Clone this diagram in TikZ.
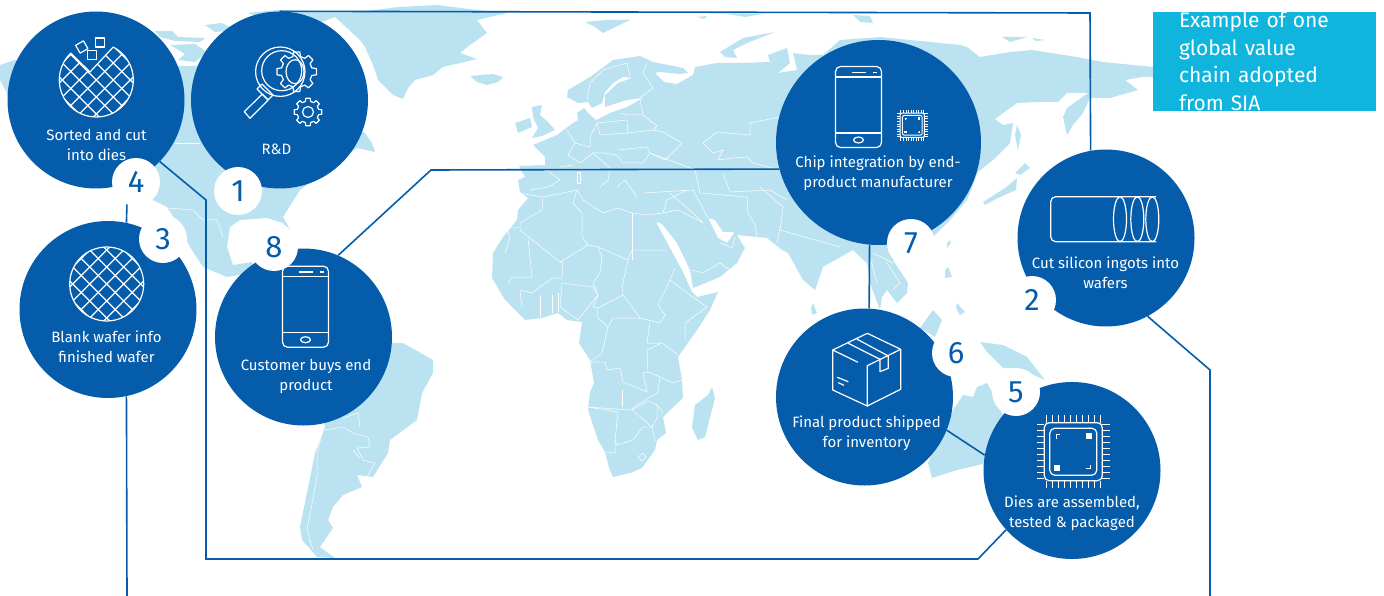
\documentclass[tikz,border=0pt]{standalone}
\usepackage{fontspec}
\setmainfont{Fira Sans}
\usetikzlibrary{positioning,calc}

\definecolor{stepblue}{HTML}{045CAB}
\definecolor{landblue}{HTML}{BAE2F0}
\definecolor{noteblue}{HTML}{0FB5DC}

\tikzset{
  land/.style={fill=landblue},
  border/.style={draw=white,line width=.5pt,line join=round},
  chainline/.style={draw=stepblue,line width=1.6pt},
  iconline/.style={draw=white,line width=1.2pt,line join=round},
  stepdisc/.style={circle,fill=stepblue,inner sep=0pt,minimum size=177pt},
  steptext/.style={text=white,align=center,inner sep=0pt,font=\fontsize{15}{20}\selectfont},
  stepnum/.style={circle,fill=white,text=stepblue,inner sep=0pt,minimum size=48pt,font=\fontsize{31}{31}\selectfont},
  notebox/.style={fill=noteblue,text=white,inner sep=0pt,minimum width=223pt,minimum height=97pt,text width=171pt,align=left,font=\fontsize{21}{27.5}\selectfont}
}

\newcommand{\wafernet}{
  \foreach \k in {-5,...,5} {
    \draw[iconline] ({-60+\k*17},-60) -- ({60+\k*17},60);
    \draw[iconline] ({60+\k*17},-60) -- ({-60+\k*17},60);
  }
}
\newcommand{\gearicon}[3]{
  \draw[iconline,shift={(#1,#2)}] ({-14}:{.78*#3})
    \foreach \a in {0,45,...,315} { -- ({\a-14}:{.78*#3}) -- ({\a-9}:#3) -- ({\a+9}:#3) -- ({\a+14}:{.78*#3}) } -- cycle;
}
\newcommand{\phoneicon}[2]{
  \begin{scope}[shift={(#1,#2)}]
    \draw[iconline,rounded corners=5pt] (-23,-40.5) rectangle (23,40.5);
    \draw[iconline] (-23,-30) -- (23,-30);
    \draw[iconline] (-23,26) -- (23,26);
    \draw[draw=white,line width=1.8pt] (-7,-34.5) -- (7,-34.5);
    \draw[draw=white,line width=1.8pt] (14,-34.5) -- (18,-34.5);
    \draw[iconline] (0,33) ellipse [x radius=5pt,y radius=3pt];
  \end{scope}
}
\newcommand{\chipicon}[5]{
  \begin{scope}[shift={(#1,#2)},scale=#3]
    \draw[draw=white,line width=#4pt,rounded corners=#5pt] (-29,-29) rectangle (29,29);
    \draw[draw=white,line width=#4pt,rounded corners=#5pt] (-23.5,-23.5) rectangle (23.5,23.5);
    \foreach \k in {-27,-21,...,27} {
      \draw[draw=white,line width=#4pt] (\k,-29) -- (\k,-36.5);
      \draw[draw=white,line width=#4pt] (\k,29) -- (\k,36.5);
      \draw[draw=white,line width=#4pt] (-29,\k) -- (-36.5,\k);
      \draw[draw=white,line width=#4pt] (29,\k) -- (36.5,\k);
    }
    \draw[draw=white,line width=#4pt] (-17,-13) -- (-17,-17) -- (-13,-17);
    \draw[draw=white,line width=#4pt] (17,13) -- (17,17) -- (13,17);
    \fill[white] (13,-19) rectangle (19,-13);
    \fill[white] (-19,13) rectangle (-13,19);
  \end{scope}
}

\begin{document}
\begin{tikzpicture}[x=1pt,y=-1pt]
  \useasboundingbox (0,0) rectangle (1384,596);

  % Americas
  \fill[land] (0,65) -- (15,60) -- (26,62) -- (60,50) -- (90,62) -- (178,66) -- (195,66) -- (260,50) -- (335,60) -- (352,128) -- (365,133) -- (372,143) -- (375,152) -- (357,148) -- (300,190) -- (283,217) -- (298,243) -- (283,223) -- (267,218) -- (240,220) -- (230,227) -- (227,247) -- (233,265) -- (252,262) -- (262,300) -- (240,275) -- (227,277) -- (203,267) -- (190,247) -- (180,227) -- (167,207) -- (153,200) -- (100,170) -- (30,100) -- (12,90) -- (8,95) -- (0,80) -- cycle;
  \fill[land] (155,31) -- (172,31) -- (178,37) -- (205,38) -- (200,42) -- (175,41) -- (160,37) -- cycle;
  \fill[land] (205,25) -- (222,23) -- (235,30) -- (215,32) -- cycle;
  \fill[land] (170,45) -- (195,44) -- (207,52) -- (195,62) -- (178,60) -- (185,54) -- cycle;
  \fill[land] (300,330) -- (392,343) -- (403,343) -- (433,360) -- (433,373) -- (422,393) -- (417,420) -- (390,440) -- (388,453) -- (373,477) -- (357,475) -- (362,487) -- (343,495) -- (333,507) -- (328,520) -- (333,528) -- (320,547) -- (335,558) -- (317,557) -- (302,540) -- (300,527) -- (307,493) -- (315,453) -- (325,427) -- cycle;

  % Greenland, Iceland, the British Isles and the north
  \fill[land] (247,13) -- (280,10) -- (360,12) -- (398,7) -- (437,5) -- (477,10) -- (507,13) -- (477,20) -- (487,33) -- (470,45) -- (460,53) -- (477,59) -- (443,67) -- (433,75) -- (415,80) -- (408,88) -- (403,99) -- (393,95) -- (385,87) -- (378,80) -- (373,65) -- (365,47) -- (360,40) -- (335,17) -- (300,30) -- cycle;
  \fill[land] (470,76) -- (493,74) -- (503,77) -- (498,82) -- (487,85) -- (477,82) -- cycle;
  \fill[land] (532,107) -- (542,105) -- (540,115) -- (548,122) -- (555,130) -- (542,136) -- (532,138) -- (538,128) -- (533,117) -- cycle;
  \fill[land] (515,123) -- (530,118) -- (532,127) -- (518,133) -- cycle;
  \fill[land] (585,22) -- (607,20) -- (630,20) -- (603,33) -- (595,27) -- cycle;
  \fill[land] (720,52) -- (743,38) -- (775,32) -- (747,43) -- (733,50) -- (737,58) -- (725,57) -- cycle;
  \fill[land] (697,17) -- (707,16) -- (704,19) -- cycle;
  \fill[land] (728,14) -- (763,14) -- (745,17) -- cycle;
  \fill[land] (853,15) -- (870,16) -- (873,23) -- (860,22) -- cycle;
  \fill[land] (1002,37) -- (1027,37) -- (1010,42) -- cycle;
  \fill[land] (1032,38) -- (1045,40) -- (1036,41) -- cycle;

  % Africa and Eurasia
  \fill[land] (519,166) -- (545,165) -- (545,157) -- (533,145) -- (557,135) -- (573,123) -- (578,120) -- (577,113) -- (584,108) -- (588,113) -- (596,120) -- (610,113) -- (627,107) -- (643,98) -- (627,100) -- (617,103) -- (605,107) -- (605,95) -- (618,83) -- (632,78) -- (623,77) -- (613,83) -- (605,92) -- (602,103) -- (592,108) -- (588,102) -- (578,103) -- (567,97) -- (568,90) -- (590,77) -- (613,60) -- (640,56) -- (653,62) -- (683,68) -- (688,73) -- (680,74) -- (660,72) -- (655,73) -- (664,82) -- (677,84) -- (693,75) -- (695,67) -- (717,63) -- (743,63) -- (770,62) -- (768,55) -- (787,48) -- (790,63) -- (778,73) -- (797,70) -- (793,53) -- (810,55) -- (823,55) -- (840,40) -- (880,37) -- (960,45) -- (967,47) -- (980,57) -- (1010,52) -- (1032,50) -- (1077,57) -- (1103,62) -- (1153,67) -- (1153,77) -- (1142,77) -- (1125,80) -- (1138,90) -- (1110,98) -- (1090,98) -- (1083,113) -- (1073,125) -- (1067,135) -- (1063,117) -- (1067,108) -- (1088,93) -- (1067,93) -- (1058,102) -- (1040,102) -- (1017,103) -- (995,119) -- (1003,125) -- (1013,123) -- (1010,143) -- (993,160) -- (978,172) -- (967,200) -- (950,220) -- (933,237) -- (920,245) -- (893,260) -- (908,283) -- (907,293) -- (897,303) -- (887,290) -- (882,297) -- (880,310) -- (870,283) -- (867,263) -- (860,257) -- (853,250) -- (823,267) -- (815,290) -- (803,280) -- (788,253) -- (782,250) -- (767,238) -- (737,235) -- (733,232) -- (723,232) -- (715,220) -- (708,218) -- (718,238) -- (727,243) -- (735,232) -- (745,248) -- (737,263) -- (720,277) -- (693,288) -- (690,270) -- (677,243) -- (662,224) -- (656,222) -- (670,248) -- (683,272) -- (692,292) -- (697,297) -- (718,292) -- (710,310) -- (697,330) -- (678,357) -- (682,380) -- (683,398) -- (667,413) -- (663,417) -- (666,433) -- (657,440) -- (655,450) -- (642,468) -- (630,473) -- (613,477) -- (609,468) -- (605,452) -- (598,440) -- (588,410) -- (590,392) -- (594,383) -- (590,360) -- (579,343) -- (582,322) -- (567,320) -- (558,313) -- (542,318) -- (525,320) -- (505,300) -- (492,278) -- (493,253) -- (503,237) -- (517,220) -- (518,210) -- (528,198) -- (520,192) -- (518,180) -- (525,177) -- cycle;

  % islands and Australia
  \fill[land] (712,387) -- (715,398) -- (705,437) -- (698,440) -- (692,428) -- (695,405) -- (708,395) -- cycle;
  \fill[land] (987,383) -- (977,387) -- (973,397) -- (963,395) -- (955,407) -- (945,425) -- (928,463) -- (932,478) -- (957,470) -- (983,464) -- (1003,415) -- (992,392) -- cycle;
  \fill[land] (980,342) -- (1003,345) -- (1013,350) -- (1027,357) -- (1045,380) -- (1027,372) -- (1013,368) -- (1003,368) -- (993,358) -- (987,352) -- cycle;
  \fill[land] (933,310) -- (942,320) -- (935,337) -- (920,328) -- cycle;
  \fill[land] (948,267) -- (952,277) -- (945,278) -- (945,270) -- cycle;
  \fill[land] (957,303) -- (965,312) -- (960,315) -- (956,308) -- cycle;
  \fill[land] (950,240) -- (951,243) -- (947,248) -- (947,243) -- cycle;
  \fill[land] (813,303) -- (817,313) -- (812,315) -- (811,308) -- cycle;
  \fill[land] (1017,125) -- (1021,135) -- (1018,150) -- (1015,135) -- cycle;
  \fill[land] (1015,173) -- (1025,163) -- (1030,168) -- (1020,175) -- cycle;
  \fill[land] (1017,178) -- (1016,190) -- (1000,197) -- (985,205) -- (983,202) -- (1005,188) -- cycle;

  % borders, Africa
  \draw[border] (518,193) -- (543,197) -- (577,190) -- (583,200) -- (603,213) -- (617,208) -- (632,213) -- (647,215) -- (663,213) -- (667,200) -- (687,190);
  \draw[border] (577,190) -- (573,203) -- (582,213) -- (582,237) -- (588,245);
  \draw[border] (543,197) -- (542,210) -- (520,223) -- (520,230) -- (560,262) -- (588,245) -- (598,247) -- (628,260) -- (632,250) -- (667,250);
  \draw[border] (520,228) -- (507,228) -- (510,237) -- (505,253);
  \draw[border] (528,238) -- (532,277) -- (512,277) -- (508,283);
  \draw[border] (632,213) -- (632,260);
  \draw[border] (560,262) -- (563,262) -- (562,278) -- (552,278) -- (532,293) -- (520,290) -- (522,308);
  \draw[border] (598,247) -- (602,257) -- (600,273) -- (593,283) -- (598,295) -- (593,307) -- (598,308) -- (623,295) -- (622,287) -- (628,260);
  \draw[border] (623,295) -- (640,318) -- (660,323) -- (665,315) -- (658,305) -- (670,280) -- (675,268);
  \draw[border] (650,323) -- (647,343) -- (662,343) -- (678,355);
  \draw[border] (685,340) -- (685,323) -- (707,307) -- (690,295) -- (670,280);
  \draw[border] (562,283) -- (593,287) -- (598,295) -- (578,320) -- (560,307) -- cycle;
  \draw[border] (540,295) -- (540,317);
  \draw[border] (552,295) -- (552,313);
  \draw[border] (558,293) -- (558,312);
  \draw[border] (598,308) -- (597,317) -- (608,327) -- (613,318) -- (640,318);
  \draw[border] (608,327) -- (602,353) -- (590,362) -- (605,362) -- (607,370) -- (620,368) -- (623,382) -- (647,392) -- (643,373) -- (648,372) -- (660,377) -- (658,393) -- (648,398) -- (630,410) -- (588,407);
  \draw[border] (647,350) -- (648,372);
  \draw[border] (662,343) -- (647,350);
  \draw[border] (660,377) -- (673,383) -- (682,380);
  \draw[border] (622,390) -- (622,407);
  \draw[border] (588,407) -- (618,412) -- (615,440) -- (617,445) -- (633,440) -- (643,427) -- (652,427) -- (632,410);
  \draw[border] (605,452) -- (615,453) -- (615,440);
  \draw[border] (632,410) -- (648,401) -- (657,405) -- (657,418) -- (652,427) -- (655,442);
  \draw[border] (663,413) -- (657,405);
  \draw[border] (638,457) -- (643,453) -- (646,457) -- (642,461) -- cycle;

  % borders, Europe and Asia
  \draw[border] (587,100) -- (590,83) -- (603,70) -- (627,63) -- (630,77);
  \draw[border] (647,63) -- (643,73) -- (653,88) -- (640,98);
  \draw[border] (640,100) -- (643,115) -- (627,115) -- (620,113);
  \draw[border] (597,123) -- (627,120) -- (628,133) -- (600,135) -- cycle;
  \draw[border] (628,133) -- (653,130) -- (663,132) -- (682,143) -- (665,160) -- (650,153) -- (647,147) -- (618,150);
  \draw[border] (643,115) -- (657,126) -- (653,130);
  \draw[border] (567,130) -- (575,143) -- (568,155) -- (580,163);
  \draw[border] (575,143) -- (590,147) -- (590,137) -- (597,123);
  \draw[border] (580,163) -- (593,153) -- (603,153) -- (617,155) -- (623,163) -- (643,163) -- (650,153);
  \draw[border] (593,153) -- (610,168) -- (608,180) -- (600,187);
  \draw[border] (560,167) -- (573,165);
  \draw[border] (650,153) -- (677,163) -- (695,170) -- (700,193) -- (747,197) -- (748,213) -- (755,225) -- (757,237);
  \draw[border] (577,172) rectangle (580,183);
  \draw[border] (547,170) -- (560,180) -- (548,187) -- (530,190);
  \draw[border] (617,187) -- (625,180) -- (637,197);
  \draw[border] (643,193) -- (693,190) -- (700,203) -- (708,218);
  \draw[border] (670,193) -- (693,213) -- (703,223);
  \draw[border] (663,213) -- (678,210) -- (703,223);
  \draw[border] (723,173) -- (730,192) -- (770,190) -- (787,200);
  \draw[border] (703,143) -- (717,132) -- (750,135) -- (750,123) -- (780,117);
  \draw[border] (703,143) -- (713,153) -- (723,150) -- (718,160) -- (733,158) -- (747,157) -- (753,163) -- (780,170);
  \draw[border] (692,270) -- (703,273) -- (720,263) -- (730,270);
  \draw[border] (720,243) -- (732,248) -- (735,237);
  \draw[border] (780,227) -- (777,243);
  \draw[border] (760,187) -- (783,207) -- (780,230) -- (840,247);
  \draw[border] (870,257) -- (877,283);
  \draw[border] (887,263) -- (900,283) -- (893,290);
  \draw[border] (873,253) -- (893,263);

  % borders, the Americas
  \draw[border] (323,430) -- (317,453) -- (317,477) -- (307,530) -- (313,550);
  \draw[border] (325,430) -- (343,427) -- (353,433) -- (368,437) -- (370,447) -- (357,448) -- (363,460) -- (375,463) -- (367,477);
  \draw[border] (360,458) -- (353,450);
  \draw[border] (343,418) -- (358,413) -- (360,427);
  \draw[border] (175,143) -- (200,143);
  \draw[border] (167,208) -- (193,210) -- (203,220) -- (217,220) -- (223,237);

  \node[notebox] (note) at (1264.5,61.5) {Example of one global value chain adopted from SIA};

  \node[stepdisc] (rd) at (279.5,100) {};
  \node[stepdisc,minimum size=205pt] (chip) at (878.5,142.5) {};
  \node[stepdisc] (ingot) at (1106,238) {};
  \node[stepdisc] (blank) at (108,309.5) {};
  \node[stepdisc] (sorted) at (96,100) {};
  \node[stepdisc] (dies) at (1072,470.5) {};
  \node[stepdisc] (shipped) at (864.5,397) {};
  \node[stepdisc] (buyer) at (303.5,337) {};

  \node[steptext] (sortedtext) at (96.5,144.5) {Sorted and cut\\into dies};
  \node[steptext] (rdtext) at (276.5,149.5) {R\&D};
  \node[steptext] (blanktext) at (106.5,346.5) {Blank wafer info\\finished wafer};
  \node[steptext] (buyertext) at (306,376) {Customer buys end\\product};
  \node[steptext] (chiptext) at (878,173) {Chip integration by end-\\product manufacturer};
  \node[steptext] (ingottext) at (1105.5,272.5) {Cut silicon ingots into\\wafers};
  \node[steptext] (shippedtext) at (866.5,433.5) {Final product shipped\\for inventory};
  \node[steptext] (diestext) at (1072,513.5) {Dies are assembled,\\tested \& packaged};

  \node[stepnum] (n1) at (238,191) {1};
  \node[stepnum] (n2) at (1032,300) {2};
  \node[stepnum] (n3) at (163,239) {3};
  \node[stepnum] (n4) at (136,182) {4};
  \node[stepnum] (n5) at (1016,392) {5};
  \node[stepnum] (n6) at (956,353) {6};
  \node[stepnum] (n7) at (911,243) {7};
  \node[stepnum] (n8) at (274,247) {8};

  \coordinate (rdcorner) at (1090,13);
  \coordinate (ingotbend) at (1210,370);
  \coordinate (ingotend) at (1210,596);
  \coordinate (blankend) at (127,596);
  \coordinate (sortedbend) at (206,200);
  \coordinate (framecorner) at (206,559);
  \coordinate (framebend) at (978,559);
  \coordinate (chipbend) at (431,170);

  \draw[chainline] (rd.north) -- (rdcorner) -- (ingot.100);
  \draw[chainline] (ingot.-62) -- (ingotbend) -- (ingotend);
  \draw[chainline] (blank.-78) -- (blankend);
  \draw[chainline] (n4.-112) -- (blank.78);
  \draw[chainline] (sorted.-44) -- (sortedbend) -- (framecorner) -- (framebend) -- (dies.-138);
  \draw[chainline] (dies.170) -- (shipped.-22);
  \draw[chainline] (shipped.87) -- (chip.-95);
  \draw[chainline] (chip.-165) -- (chipbend) -- (buyer.67);

  % wafer with dies taken out
  \begin{scope}[shift={(96.3,80)}]
    \begin{scope}
      \clip (-6.3,-8) -- (-60,-61) -- (-60,60) -- (60,60) -- (60,-63) -- (45,-63) -- cycle;
      \draw[iconline] (0,0) circle [radius=37pt];
      \begin{scope}
        \clip (0,0) circle [radius=37pt];
        \wafernet
      \end{scope}
    \end{scope}
    \draw[iconline] (-25.6,-27) -- (-6.3,-8) -- (17,-33);
    \draw[iconline] (-1,-42) rectangle (8,-33);
    \draw[iconline] (-9,-29.5) rectangle (0,-20.5);
    \draw[iconline,rotate around={30:(-14.5,-33)}] (-19,-37.5) rectangle (-10,-28.5);
  \end{scope}

  % blank wafer
  \begin{scope}[shift={(106.7,284)}]
    \draw[iconline] (0,0) circle [radius=37pt];
    \clip (0,0) circle [radius=37pt];
    \wafernet
  \end{scope}

  % magnifier and gears
  \draw[iconline] (280.3,71.7) circle [radius=24.7pt];
  \draw[iconline] (281.7,70.7) circle [radius=20pt];
  \draw[iconline] (244.3,111.7) -- (250,118.3) -- (268.3,100) -- (262.3,94) -- cycle;
  \draw[iconline] (257,89) -- (268,100) -- (273,95) -- (262,84) -- cycle;
  \gearicon{296.7}{71.7}{20}
  \draw[iconline] (295,71.7) ellipse [x radius=9pt,y radius=12pt];
  \gearicon{308}{112}{14}
  \draw[iconline] (308,112) circle [radius=5.5pt];

  \phoneicon{858.5}{107}
  \phoneicon{305.5}{306.7}
  \chipicon{912.3}{125.3}{.42}{1}{2}
  \chipicon{1073.3}{451.7}{1}{1.2}{5}

  % ingot
  \draw[iconline,rounded corners=5pt] (1156,196.7) -- (1050.7,196.7) -- (1050.7,241.7) -- (1156,241.7);
  \draw[iconline] (1120,219.2) ellipse [x radius=6.5pt,y radius=22.5pt];
  \draw[iconline] (1137.3,219.2) ellipse [x radius=6.5pt,y radius=22.5pt];
  \draw[iconline] (1152.3,219.2) ellipse [x radius=6.5pt,y radius=22.5pt];

  % box
  \draw[iconline] (832.7,350) -- (867.3,333.3) -- (900.7,349.3) -- (867.3,365.7) -- (867.3,406) -- (832.7,390) -- cycle;
  \draw[iconline] (867.3,406) -- (900.7,389.3) -- (900.7,349.3);
  \draw[iconline] (832.7,350) -- (858,362.3);
  \draw[iconline] (848.3,343.3) -- (880,359.3) -- (880,371.7) -- (888.3,368.3) -- (888.3,356) -- (856.7,339);
  \draw[iconline] (837.3,377.3) -- (848.3,381.7);
  \draw[iconline] (838.3,382.7) -- (844,385.3);
\end{tikzpicture}
\end{document}
